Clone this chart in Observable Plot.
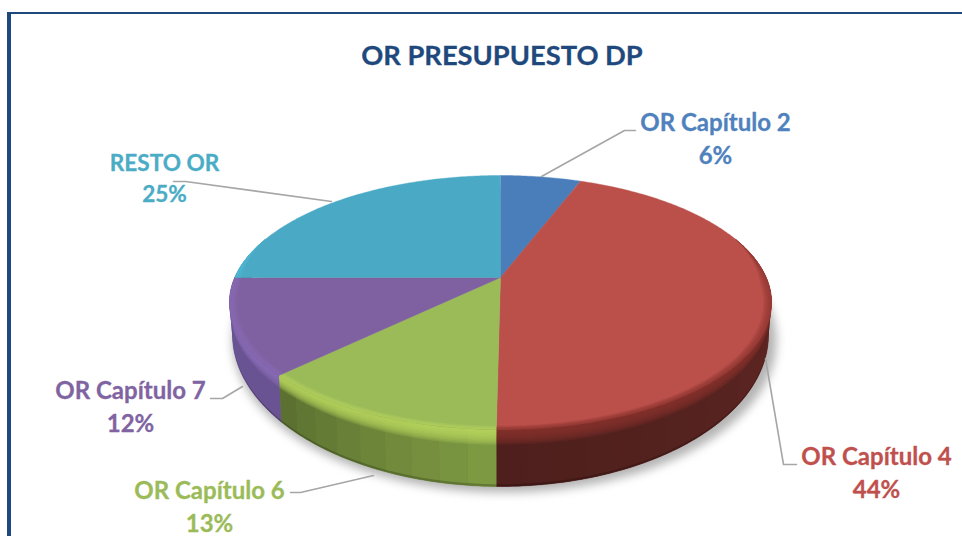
<!DOCTYPE html>
<html>
<head>
<meta charset="utf-8">
<script src="https://cdn.jsdelivr.net/npm/d3@7"></script>
<script src="https://cdn.jsdelivr.net/npm/@observablehq/plot@0.6"></script>
<style>
  html, body { margin: 0; background: #fff; overflow: hidden; }
  #page { position: relative; width: 962px; height: 536px; overflow: hidden; font-family: Lato, sans-serif; }
  #frame { position: absolute; left: 7px; top: 12px; right: -10px; bottom: -10px; border-left: 4px solid #1f497d; border-top: 2px solid #1f497d; }
  #title { position: absolute; left: 0; top: 38px; width: 1004px; text-align: center; font-size: 27.3px; line-height: 34px; font-weight: 700; color: #1f497d; -webkit-text-stroke: 0.3px #1f497d; }
  #chart { position: absolute; left: 0; top: 90px; }
  #chart svg { display: block; background: transparent; }
</style>
</head>
<body>
<div id="page">
  <div id="frame"></div>
  <div id="title">OR PRESUPUESTO DP</div>
  <div id="chart"></div>
</div>
<script>
// Data
const categories = ["OR Capítulo 2", "OR Capítulo 4", "OR Capítulo 6", "OR Capítulo 7", "RESTO OR"];
const values = [5.8, 44.4, 12.6, 12.2, 25.0];

// Colours
const faceColors = ["#4a7ebb", "#bb4f4a", "#9bbb59", "#7f60a0", "#4aa9c4"];
const textColors = ["#4f81bd", "#c0504d", "#9bbb59", "#8064a2", "#4bacc6"];
const bevelColors = ["#4f88c8", "#86342f", "#b8d660", "#8a6cb8", "#52c0dc"];
const wallLeft = ["#3a608f", "#6e2c29", "#7f9c43", "#6a5392", "#3d8aa0"];
const wallRight = ["#3a608f", "#4d1f1c", "#5a6e30", "#6a5392", "#3d8aa0"];

// Layout of the annotation (page pixels)
const labelX = [715, 876, 209, 130, 164];
const labelY = [136, 470, 504, 404, 176];
const labelSize = [24, 24, 24, 24, 22.6];
const leaders = [
  [[541, 176], [624, 130], [635, 130]],
  [[765, 358], [783, 464], [796, 464]],
  [[373, 475], [300, 492], [290, 492]],
  [[242, 386], [222, 398], [210, 398]],
  [[331, 201], [185, 181], [173, 181]]
];

// Pie projection: a disc seen in perspective
const tilt = -0.197;
const topE = {cx: 500, cy: 302, rx: 271, ry: 127};
const lowE = {cx: 500, cy: 334, rx: 268, ry: 152};
const disc = frac => {
  const t = frac * 2 * Math.PI, u = Math.sin(t), v = -Math.cos(t), d = 1 + tilt * v;
  return [u * Math.sqrt(1 - tilt * tilt) / d, (v + tilt) / d];
};
const onE = (e, [X, Y], s = 1) => [e.cx + e.rx * X * s, e.cy + e.ry * Y * s];
const lerp = (a, b, f) => [a[0] + (b[0] - a[0]) * f, a[1] + (b[1] - a[1]) * f];
const wallPt = (P, g) => lerp(onE(topE, P), onE(lowE, P), g);

const total = d3.sum(values);
const cum = d3.cumsum(values).map(c => c / total);
const starts = [0, ...cum.slice(0, -1)];

const faces = [], bases = [], walls = [], bevels = [], feet = [], rims = [], shadow = [];
let id = 0;
const poly = (list, pts, c) => { id++; pts.forEach(p => list.push({x: p[0], y: p[1], z: id, c})); };
const fracs = (a, b, step) => {
  const n = Math.max(1, Math.ceil((b - a) / step));
  return d3.range(n + 1).map(k => a + (b - a) * k / n);
};
const bevelStops = [0.27, 0.245, 0.22, 0.195, 0.17, 0.145, 0.12, 0.095, 0.07, 0.045];
const rimWidths = [0.03, 0.024, 0.018, 0.012, 0.006];
const fadeOf = Y => Math.max(0, Math.min(1, (Y + 0.5) / 0.35));

categories.forEach((_, i) => {
  const a = starts[i], b = cum[i];
  const fine = fracs(a, b, 0.002);
  poly(faces, [onE(topE, [0, tilt]), ...fine.map(f => onE(topE, disc(f)))], faceColors[i]);

  const front = fine.filter(f => disc(f)[1] > -0.5);
  if (front.length < 2) return;
  const back = front.slice().reverse();

  // solid wall below, so no gap can show between the strips above it
  const mid = d3.color(d3.interpolateRgb(wallLeft[i], wallRight[i])(0.5)).formatHex();
  poly(bases, [...front.map(f => wallPt(disc(f), 0)), ...back.map(f => wallPt(disc(f), 1))], mid);

  const coarse = fracs(a, b, 0.015);
  for (let k = 0; k < coarse.length - 1; k++) {
    const sub = fracs(coarse[k], coarse[k + 1], 0.002).filter(f => disc(f)[1] > -0.5);
    if (sub.length < 2) continue;
    const side = ((coarse[k] + coarse[k + 1]) / 2 - a) / (b - a);
    const c = d3.color(d3.interpolateRgb(wallLeft[i], wallRight[i])(side)).formatHex();
    poly(walls, [...sub.map(f => wallPt(disc(f), 0)), ...sub.slice().reverse().map(f => wallPt(disc(f), 1))], c);
  }

  // bevel and foot of the wall: nested translucent bands
  bevelStops.forEach(g => {
    poly(bevels, [...front.map(f => wallPt(disc(f), 0)), ...back.map(f => wallPt(disc(f), g))], bevelColors[i]);
  });
  poly(feet, [...front.map(f => wallPt(disc(f), 1)), ...back.map(f => wallPt(disc(f), 0.96))], "#000000");
  rimWidths.forEach(w => {
    poly(rims, [...front.map(f => onE(topE, disc(f))),
      ...back.map(f => onE(topE, disc(f), 1 - w * fadeOf(disc(f)[1])))], bevelColors[i]);
  });
});
d3.range(0, 181).forEach(k => {
  const th = k / 180 * 2 * Math.PI;
  shadow.push({x: lowE.cx + 4 + (lowE.rx + 4) * Math.cos(th), y: lowE.cy + 6 + lowE.ry * Math.sin(th), z: 0});
});

const leaderRows = leaders.flatMap((pts, i) => pts.map(p => ({x: p[0], y: p[1], z: i})));
const labels = categories.map((name, i) => ({
  x: labelX[i], y: labelY[i], c: textColors[i], size: labelSize[i],
  text: name + "\n" + d3.format(".0f")(values[i] / total * 100) + "%"
}));

const lineOpts = {x: "x", y: "y", z: "z", curve: "linear"};

const chart = Plot.plot({
  width: 962,
  height: 446,
  margin: 0,
  x: {domain: [0, 962], range: [0, 962], axis: null},
  y: {domain: [90, 536], range: [0, 446], axis: null},
  color: {type: "identity"},
  style: {background: "transparent"},
  marks: [
    Plot.line(shadow, {...lineOpts, fill: "#b4b4b4", stroke: "none", imageFilter: "blur(5px)"}),
    Plot.line(bases, {...lineOpts, fill: "c", stroke: "c", strokeWidth: 0.5}),
    Plot.line(walls, {...lineOpts, fill: "c", stroke: "none"}),
    Plot.line(bevels, {...lineOpts, fill: "c", stroke: "none", fillOpacity: 0.2}),
    Plot.line(feet, {...lineOpts, fill: "c", stroke: "none", fillOpacity: 0.2}),
    Plot.line(faces, {...lineOpts, fill: "c", stroke: "c", strokeWidth: 0.4}),
    Plot.line(rims, {...lineOpts, fill: "c", stroke: "none", fillOpacity: 0.2}),
    Plot.line(leaderRows, {...lineOpts, stroke: "#a6a6a6", strokeWidth: 1.6}),
    Plot.text(labels, {
      x: "x", y: "y", text: "text", fill: "c", stroke: "c", strokeWidth: 0.3,
      fontFamily: "Lato, sans-serif", fontWeight: 700, fontSize: "size",
      lineHeight: 1.375, textAnchor: "middle", lineAnchor: "middle"
    })
  ]
});
document.getElementById("chart").appendChild(chart);
</script>
</body>
</html>
